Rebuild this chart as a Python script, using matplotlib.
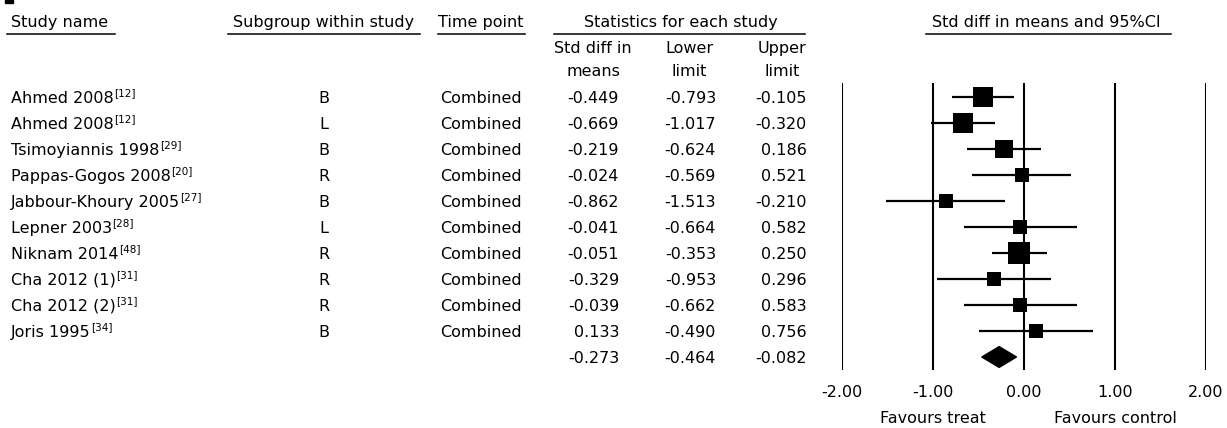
import matplotlib
matplotlib.use("Agg")
import matplotlib.pyplot as plt
from matplotlib.patches import Polygon, Rectangle
from matplotlib.transforms import blended_transform_factory
import numpy as np

# table data
studies = ["Ahmed 2008", "Ahmed 2008", "Tsimoyiannis 1998", "Pappas-Gogos 2008",
           "Jabbour-Khoury 2005", "Lepner 2003", "Niknam 2014", "Cha 2012 (1)",
           "Cha 2012 (2)", "Joris 1995"]
refs = ["12", "12", "29", "20", "27", "28", "48", "31", "31", "34"]
subgroups = ["B", "L", "B", "R", "B", "L", "R", "R", "R", "B"]
time_points = ["Combined"] * 10
smd = [-0.449, -0.669, -0.219, -0.024, -0.862, -0.041, -0.051, -0.329, -0.039, 0.133]
lower = [-0.793, -1.017, -0.624, -0.569, -1.513, -0.664, -0.353, -0.953, -0.662, -0.490]
upper = [-0.105, -0.320, 0.186, 0.521, -0.210, 0.582, 0.250, 0.296, 0.583, 0.756]
weights = [14.7, 13.7, 12.3, 8.5, 6.7, 6.7, 16.7, 7.1, 6.7, 6.7]  # relative, from box sizes
pooled = (-0.273, -0.464, -0.082)
xticks = [-2, -1, 0, 1, 2]

W, H = 1227, 428
FS = 11.5
plt.rcParams['font.family'] = 'DejaVu Sans'

fig = plt.figure(figsize=(W / 100, H / 100), dpi=100)


def fx(px):
  return px / W


def fy(px):
  return 1 - px / H


# forest panel
ax = fig.add_axes([fx(842), fy(370), fx(1206) - fx(842), (370 - 83) / H])
n = len(studies)
ax.set_xlim(-2, 2)
ax.set_ylim(10.5, (83 - 97) / 26)
for s in ax.spines.values():
  s.set_visible(False)
for t in xticks:
  ax.axvline(t, color='black', lw=1.5, zorder=1)
ax.set_xticks(xticks)
ax.set_xticklabels(["%.2f" % t for t in xticks], fontsize=FS)
ax.tick_params(axis='x', length=0, pad=11)
ax.set_yticks([])

rows = np.arange(n)
ax.hlines(rows, lower, upper, color='black', lw=1.6, zorder=2)
box_pt = 5.14 * np.sqrt(weights) * 0.72
for i in range(n):
  ax.plot(smd[i], rows[i], marker='s', ms=box_pt[i], color='black',
          mec='black', mew=0, zorder=3)
est, lo, hi = pooled
ax.add_patch(Polygon([[lo, n], [est, n - 0.4], [hi, n], [est, n + 0.4]],
                     closed=True, facecolor='black', edgecolor='black', zorder=3))

# text columns, x in figure, y in rows
tr = blended_transform_factory(fig.transFigure, ax.transData)
for i in range(n):
  y = rows[i] + 0.23
  name = fig.text(fx(11), y, studies[i], transform=tr, fontsize=FS, ha='left', va='baseline')
  ax.annotate("[" + refs[i] + "]", xy=(1, 1), xycoords=name, xytext=(0.3, 1.8),
              textcoords='offset points', fontsize=7.5, ha='left', va='top',
              annotation_clip=False)
  fig.text(fx(324), y, subgroups[i], transform=tr, fontsize=FS, ha='center', va='baseline')
  fig.text(fx(481), y, time_points[i], transform=tr, fontsize=FS, ha='center', va='baseline')
  fig.text(fx(619), y, "%.3f" % smd[i], transform=tr, fontsize=FS, ha='right', va='baseline')
  fig.text(fx(716), y, "%.3f" % lower[i], transform=tr, fontsize=FS, ha='right', va='baseline')
  fig.text(fx(807), y, "%.3f" % upper[i], transform=tr, fontsize=FS, ha='right', va='baseline')
y = n + 0.23
for px, v in zip([619, 716, 807], pooled):
  fig.text(fx(px), y, "%.3f" % v, transform=tr, fontsize=FS, ha='right', va='baseline')

# headers
headers = [("Study name", 11, 'left', (7, 115)),
           ("Subgroup within study", 324, 'center', (228, 420)),
           ("Time point", 481, 'center', (438, 525)),
           ("Statistics for each study", 681, 'center', (554, 805)),
           ("Std diff in means and 95%CI", 1046, 'center', (926, 1171))]
for label, px, ha, (x0, x1) in headers:
  fig.text(fx(px), fy(27), label, fontsize=FS, ha=ha, va='baseline')
  fig.add_artist(plt.Line2D([fx(x0), fx(x1)], [fy(34), fy(34)], color='black', lw=1.1))

for px, l1, l2 in [(593, "Std diff in", "means"), (689, "Lower", "limit"), (782, "Upper", "limit")]:
  fig.text(fx(px), fy(53), l1, fontsize=FS, ha='center', va='baseline')
  fig.text(fx(px), fy(76), l2, fontsize=FS, ha='center', va='baseline')

tb = blended_transform_factory(ax.transData, fig.transFigure)
ax.text(-1, fy(423), "Favours treat", transform=tb, fontsize=FS, ha='center', va='baseline')
ax.text(1, fy(423), "Favours control", transform=tb, fontsize=FS, ha='center', va='baseline')

# clipped panel mark in top-left corner
fig.add_artist(Rectangle((fx(5), fy(3)), fx(13) - fx(5), 3 / H, color='black'))

fig.savefig("out.png", dpi=100)
